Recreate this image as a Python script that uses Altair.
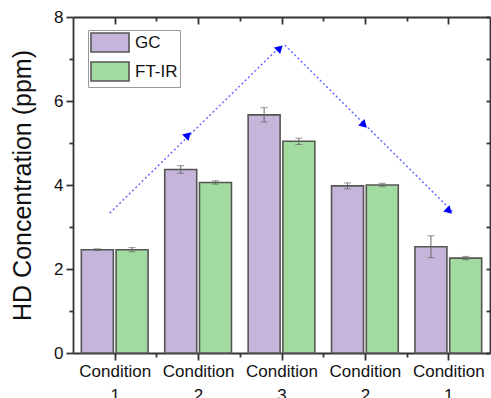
import json
import altair as alt
import pandas as pd

# ---- data ----
conditions = ["Condition 1", "Condition 2", "Condition 3", "Condition 2", "Condition 1"]
methods = ["GC", "FT-IR"]
gc_values = [2.46, 4.37, 5.67, 3.98, 2.53]
gc_errors = [0.02, 0.09, 0.17, 0.07, 0.26]
ftir_values = [2.46, 4.06, 5.04, 4.00, 2.26]
ftir_errors = [0.05, 0.04, 0.075, 0.04, 0.04]

# trend arrows (data units: x = condition position 1..5, y = ppm)
trend_x = [0.94, 2.98, 3.04, 5.07]
trend_y = [3.33, 7.29, 7.33, 3.33]
trend_seg = ["up", "up", "down", "down"]
head_x = [1.88, 2.98, 3.99, 5.01]
head_y = [5.19, 7.26, 5.43, 3.38]
head_angle = [45.7, 45.7, 134.7, 134.7]

colors = ["#C5B5DA", "#A2DBA0"]
FONT = "Liberation Sans"
AX = "#333333"

rows = []
for i in range(len(conditions)):
    rows.append({"idx": i + 1, "method": "GC", "value": gc_values[i], "err": gc_errors[i]})
    rows.append({"idx": i + 1, "method": "FT-IR", "value": ftir_values[i], "err": ftir_errors[i]})
bars_df = pd.DataFrame(rows)
trend_df = pd.DataFrame({"x": trend_x, "y": trend_y, "seg": trend_seg})
head_df = pd.DataFrame({"x": head_x, "y": head_y, "angle": head_angle})

yscale = alt.Scale(domain=[0, 8], nice=False)
xq_scale = alt.Scale(domain=[0.5, 5.5], nice=False, zero=False)
xb_scale = alt.Scale(paddingInner=0.2, paddingOuter=0.1)
off_scale = alt.Scale(paddingInner=0.08)
int_ticks = [0, 1, 2, 3, 4, 5, 6, 7, 8]
x_ticks = [1, 1.5, 2, 2.5, 3, 3.5, 4, 4.5, 5]

label_expr = (
    "datum.value % 1 == 0 ? split(" + json.dumps(conditions) + "[datum.value - 1], ' ') : ''"
)

base = alt.Chart(bars_df)
xb = alt.X("idx:O", scale=xb_scale, axis=None)
xo = alt.XOffset("method:N", sort=methods, scale=off_scale)

bars = base.mark_bar(stroke="#555555", strokeWidth=1.6).encode(
    x=xb,
    xOffset=xo,
    y=alt.Y(
        "value:Q",
        scale=yscale,
        axis=alt.Axis(
            values=int_ticks,
            labelExpr="datum.value % 2 == 0 ? datum.label : ''",
            tickSize={"condition": {"test": "datum.value % 2 != 0", "value": 4}, "value": 7},
            title="HD Concentration (ppm)",
            titleFontSize=25,
            titleFontWeight="normal",
            titlePadding=18,
            labelFontSize=17,
            labelPadding=3,
            grid=False,
        ),
    ),
    fill=alt.Fill(
        "method:N",
        sort=methods,
        scale=alt.Scale(domain=methods, range=colors),
        legend=alt.Legend(
            title=None,
            orient="none",
            legendX=15,
            legendY=13,
            symbolType="M-2,-1H2V1H-2Z",
            symbolSize=361,
            symbolOffset=9.5,
            symbolStrokeColor="#555555",
            symbolStrokeWidth=1.6,
            labelFontSize=17,
            labelOffset=14.5,
            rowPadding=2,
            padding=2,
            strokeColor="#999999",
            fillColor="white",
        ),
    ),
)

err = base.transform_calculate(
    lo="datum.value - datum.err", hi="datum.value + datum.err"
)
err_rule = err.mark_rule(color="#666666", strokeWidth=1).encode(
    x=xb, xOffset=xo, y=alt.Y("lo:Q", scale=yscale), y2="hi:Q"
)
cap_lo = err.mark_tick(color="#666666", thickness=1, size=7).encode(
    x=xb, xOffset=xo, y=alt.Y("lo:Q", scale=yscale)
)
cap_hi = err.mark_tick(color="#666666", thickness=1, size=7).encode(
    x=xb, xOffset=xo, y=alt.Y("hi:Q", scale=yscale)
)

trend = alt.Chart(trend_df).mark_line(
    color="#6A6AFF", strokeDash=[2, 2.5], strokeWidth=1.5
).encode(
    x=alt.X(
        "x:Q",
        scale=xq_scale,
        axis=alt.Axis(
            values=x_ticks,
            labelExpr=label_expr,
            tickSize={"condition": {"test": "datum.value % 1 != 0", "value": 4}, "value": 7},
            labelFontSize=17,
            labelPadding=3,
            labelLineHeight=24,
            title=None,
            grid=False,
        ),
    ),
    y=alt.Y("y:Q", scale=yscale, axis=None),
    detail="seg:N",
)

heads = alt.Chart(head_df).mark_point(
    shape="triangle-up", filled=True, color="#0000FF", size=80, opacity=1
).encode(
    x=alt.X("x:Q", scale=xq_scale, axis=None),
    y=alt.Y("y:Q", scale=yscale, axis=None),
    angle=alt.Angle("angle:Q", scale=None),
)

frame = alt.Chart(trend_df).mark_point(opacity=0).encode(
    x=alt.X(
        "x:Q",
        scale=xq_scale,
        axis=alt.Axis(
            orient="top",
            values=x_ticks,
            labels=False,
            tickSize={"condition": {"test": "datum.value % 1 != 0", "value": -4}, "value": -7},
            title=None,
            grid=False,
        ),
    ),
    y=alt.Y(
        "y:Q",
        scale=yscale,
        axis=alt.Axis(
            orient="right",
            values=int_ticks,
            labels=False,
            tickSize={"condition": {"test": "true", "value": -4}, "value": -4},
            title=None,
            grid=False,
        ),
    ),
)

bar_layer = alt.layer(bars, err_rule, cap_lo, cap_hi)
q_layer = alt.layer(trend, heads, frame).resolve_axis(x="independent", y="independent")

chart = (
    alt.layer(bar_layer, q_layer)
    .resolve_scale(x="independent")
    .resolve_axis(x="independent", y="independent")
    .properties(
        width=417,
        height=336,
        autosize=alt.AutoSizeParams(type="none"),
        padding={"left": 73, "top": 17, "right": 1, "bottom": 45},
    )
    .configure(font=FONT)
    .configure_view(stroke=None)
    .configure_axis(
        domainColor=AX,
        domainWidth=1.8,
        tickColor=AX,
        tickWidth=1.8,
        labelColor="#111111",
        titleColor="#111111",
        labelFont=FONT,
        titleFont=FONT,
    )
    .configure_legend(labelFont=FONT, labelColor="#111111")
)

chart.save("out.html", embed_options={"renderer": "svg", "actions": False})
